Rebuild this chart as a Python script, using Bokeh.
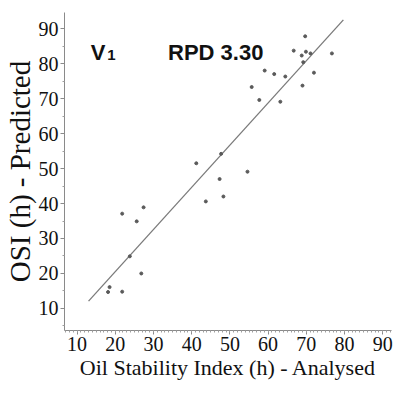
from bokeh.plotting import figure
from bokeh.models import Range1d, Label, FixedTicker, ColumnDataSource
from bokeh.embed import file_html
from bokeh.resources import INLINE

# Data
analysed = [18.5, 18.1, 21.8, 21.8, 25.6, 27.4, 23.8, 26.8, 41.2, 47.7, 47.3, 43.7, 48.3, 54.6,
            69.7, 66.7, 68.8, 69.9, 71.1, 76.7, 69.2, 59.1, 61.6, 64.5, 72.0, 55.7, 57.7, 63.2, 69.0]
predicted = [16.1, 14.7, 14.8, 37.1, 34.9, 38.9, 24.9, 20.0, 51.5, 54.2, 47.0, 40.6, 42.0, 49.1,
             87.8, 83.7, 82.3, 83.4, 82.9, 82.9, 80.4, 78.0, 77.0, 76.3, 77.4, 73.3, 69.6, 69.1, 73.7]
fit_x = [13.0, 79.7]
fit_y = [12.1, 92.5]
ticks = [10, 20, 30, 40, 50, 60, 70, 80, 90]

p = figure(frame_width=327, frame_height=318, output_backend="svg", toolbar_location=None,
           x_range=Range1d(6.7, 92.3), y_range=Range1d(3.7, 94.6),
           min_border_left=62, min_border_right=2, min_border_top=12, min_border_bottom=53)
p.outline_line_color = None
p.xgrid.grid_line_color = None
p.ygrid.grid_line_color = None

p.line(fit_x, fit_y, line_color="#7a7a7a", line_width=1.3)
src = ColumnDataSource(dict(x=analysed, y=predicted))
p.scatter("x", "y", source=src, size=3, fill_color="#5a5a5a", line_color="#5a5a5a")

serif = "Liberation Serif"
for ax in (p.xaxis[0], p.yaxis[0]):
    ax.axis_line_color = "#8a8a8a"
    ax.major_tick_line_color = "#8a8a8a"
    ax.minor_tick_line_color = "#a0a0a0"
    ax.major_tick_out = 4
    ax.major_tick_in = 0
    ax.minor_tick_out = 2
    ax.minor_tick_in = 0
    ax.major_label_text_font = serif
    ax.major_label_text_font_size = "20px"
    ax.major_label_text_color = "#111111"
    ax.axis_label_text_font = serif
    ax.axis_label_text_font_style = "normal"
    ax.axis_label_text_color = "#111111"
    ax.major_label_standoff = 2

p.xaxis.ticker = FixedTicker(ticks=ticks, minor_ticks=list(range(7, 93)))
p.yaxis.ticker = FixedTicker(ticks=ticks, minor_ticks=[5, 15, 25, 35, 45, 55, 65, 75, 85])
p.xaxis.axis_label = "Oil Stability Index (h) - Analysed"
p.yaxis.axis_label = "OSI (h) - Predicted"
p.xaxis.axis_label_text_font_size = "22px"
p.yaxis.axis_label_text_font_size = "29px"
p.xaxis.axis_label_standoff = 1
p.yaxis.axis_label_standoff = 0

p.add_layout(Label(x=13.6, y=83.1, text="V", text_font="Liberation Sans", text_font_style="bold",
                   text_font_size="22px", text_color="#111111", text_baseline="alphabetic"))
p.add_layout(Label(x=17.9, y=82.5, text="1", text_font="Liberation Sans", text_font_style="bold",
                   text_font_size="15px", text_color="#111111", text_baseline="alphabetic"))
p.add_layout(Label(x=33.8, y=83.1, text="RPD 3.30", text_font="Liberation Sans", text_font_style="bold",
                   text_font_size="22px", text_color="#111111", text_baseline="alphabetic"))

open("out.html", "w").write(file_html(p, INLINE))
